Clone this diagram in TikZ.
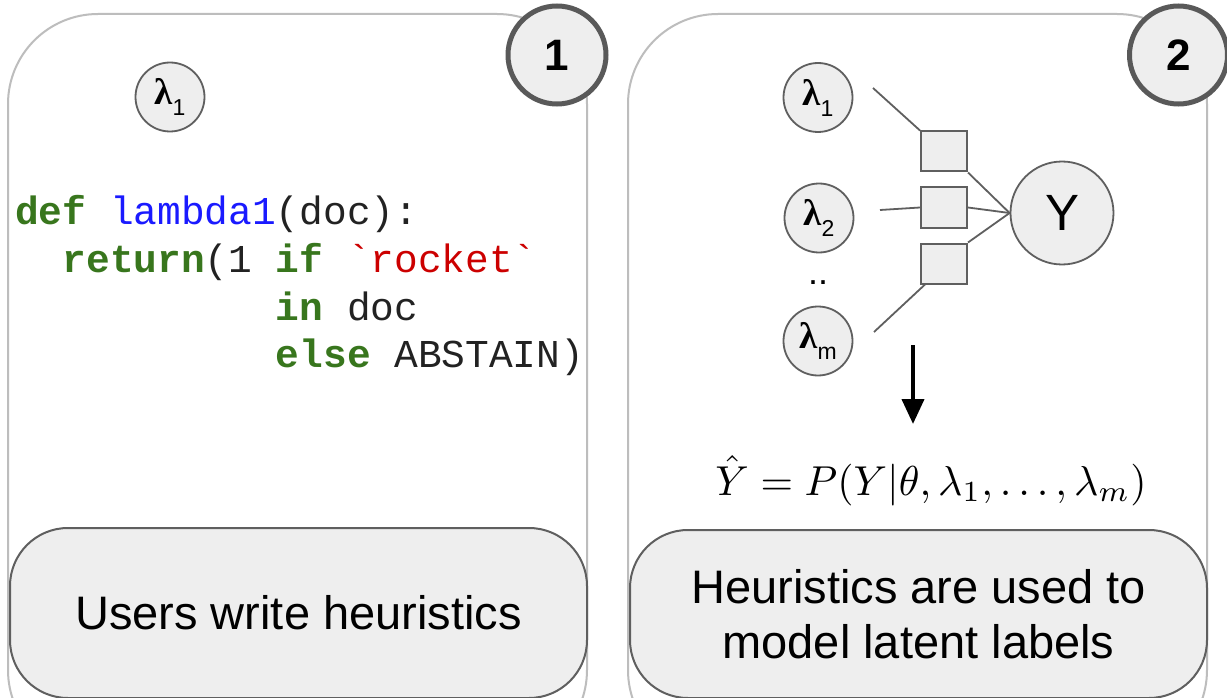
\documentclass[tikz,border=0pt]{standalone}
\usepackage[no-math]{fontspec}
\usepackage{graphicx}
\setmainfont{Liberation Sans}
\setmonofont{Liberation Mono}
\newfontfamily\lamfont{Liberation Serif}
\usetikzlibrary{arrows.meta}
\definecolor{panelgray}{HTML}{BDBDBD}
\definecolor{edgegray}{HTML}{5F5F5F}
\definecolor{badgegray}{HTML}{595959}
\definecolor{fillgray}{HTML}{EEEEEE}
\definecolor{kwgreen}{HTML}{38761D}
\definecolor{fnblue}{HTML}{1A1AFF}
\definecolor{strred}{HTML}{CC0000}
\definecolor{codeblack}{HTML}{222222}
\newcommand{\lamlabel}[1]{{\fontsize{37}{37}\selectfont\lamfont\bfseries λ}\raisebox{-11pt}{\fontsize{23}{23}\selectfont #1}}
\newcommand{\kw}[1]{\textcolor{kwgreen}{\bfseries #1}}
\tikzset{
  panel/.style={draw=panelgray, line width=2pt, rounded corners=90pt},
  badge/.style={circle, draw=badgegray, line width=5pt, fill=fillgray, minimum size=98pt, inner sep=0pt,
    font=\fontsize{44}{44}\selectfont\bfseries},
  lamnode/.style={circle, draw=edgegray, line width=1.8pt, fill=fillgray, minimum size=69pt, inner sep=0pt},
  ynode/.style={circle, draw=edgegray, line width=1.8pt, fill=fillgray, minimum size=103pt, inner sep=0pt,
    font=\fontsize{51}{51}\selectfont},
  factor/.style={rectangle, draw=edgegray, line width=2pt, fill=fillgray, minimum width=46pt, minimum height=40pt, inner sep=0pt},
  link/.style={draw=edgegray, line width=1.8pt},
  caption/.style={rectangle, rounded corners=58pt, draw=edgegray, line width=2pt, fill=fillgray,
    inner sep=0pt, align=center, font=\fontsize{47}{55}\selectfont},
  codeline/.style={anchor=base west, inner sep=0pt, text=codeblack, font=\fontsize{39.5}{48}\selectfont\ttfamily},
}
\begin{document}
\begin{tikzpicture}[x=1pt,y=-1pt]
\useasboundingbox (0,0) rectangle (1227,698);
\fill[white] (0,0) rectangle (1227,698);
% panels
\draw[panel] (8,14) rectangle (587,760);
\draw[panel] (628,14) rectangle (1207,760);
% captions
\node[caption, minimum width=577pt, minimum height=170pt] (cap1) at (298.5,613) {Users write heuristics};
\node[caption, minimum width=577pt, minimum height=168pt] (cap2) at (918.5,614) {Heuristics are used to\\model latent labels};
% badges
\node[badge] (b1) at (557,55) {1};
\node[badge] (b2) at (1178.5,55) {2};
% panel 1
\node[lamnode] (p1l) at (170,97) {\lamlabel{1}};
\node[codeline] (c1) at (15,224) {\kw{def} \textcolor{fnblue}{lambda1}(doc):};
\node[codeline] (c2) at (62.4,272) {\kw{return}(1 \kw{if} \textcolor{strred}{\char96 rocket\char96}};
\node[codeline] (c3) at (275.7,320) {\kw{in} doc};
\node[codeline] (c4) at (275.7,367) {\kw{else} ABSTAIN)};
% panel 2 factor graph
\node[lamnode] (l1) at (818,97.5) {\lamlabel{1}};
\node[lamnode] (l2) at (819,218) {\lamlabel{2}};
\node[lamnode] (lm) at (818,341) {\lamlabel{m}};
\node[anchor=base, inner sep=0pt, font=\fontsize{36}{36}\selectfont] (dots) at (818,284) {..};
\node[factor] (f1) at (944,151.5) {};
\node[factor] (f2) at (944,207.5) {};
\node[factor] (f3) at (944,263.5) {};
\node[ynode] (Y) at (1062,213) {Y};
\coordinate (e1) at (873,88);
\coordinate (e2) at (880,210);
\coordinate (e3) at (874,332);
\draw[link] (e1) -- (f1.north west);
\draw[link] (e2) -- (f2.west);
\draw[link] (e3) -- ([xshift=5pt]f3.south west);
\draw[link] (f1.south east) -- (Y.west);
\draw[link] (f2.east) -- (Y.west);
\draw[link] (f3.north east) -- (Y.west);
% arrow and formula
\coordinate (atop) at (913,345);
\coordinate (atip) at (913,424);
\draw[line width=4pt, -{Triangle[length=25pt,width=22pt]}] (atop) -- (atip);
\node[anchor=base, inner sep=0pt] (formula) at (931,495)
  {\scalebox{4.18}{$\hat{Y} = P(Y|\theta, \lambda_1, \ldots, \lambda_m)$}};
\end{tikzpicture}
\end{document}
